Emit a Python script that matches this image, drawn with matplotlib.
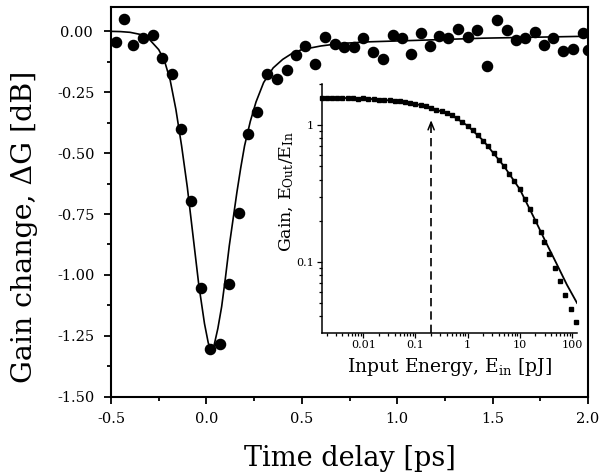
import matplotlib
matplotlib.use("Agg")
import matplotlib.pyplot as plt
from matplotlib.ticker import MultipleLocator, FormatStrFormatter, FixedLocator, FixedFormatter, LogLocator, NullFormatter

plt.rcParams['font.family'] = ['DejaVu Serif']
plt.rcParams['mathtext.fontset'] = 'dejavuserif'

# ---- main panel data: pump-probe gain change ----
delay_ps = [-0.475, -0.43, -0.383, -0.334, -0.281, -0.231, -0.182, -0.133, -0.081, -0.028,
            0.019, 0.071, 0.118, 0.172, 0.220, 0.267, 0.316, 0.372, 0.421, 0.468,
            0.517, 0.569, 0.622, 0.674, 0.723, 0.774, 0.822, 0.875, 0.924, 0.976,
            1.024, 1.072, 1.123, 1.172, 1.221, 1.268, 1.320, 1.373, 1.420, 1.469,
            1.521, 1.574, 1.621, 1.670, 1.722, 1.771, 1.818, 1.871, 1.920, 1.972, 2.0]
gain_dB = [-0.045, 0.052, -0.057, -0.027, -0.016, -0.109, -0.177, -0.40, -0.697, -1.052,
           -1.305, -1.284, -1.038, -0.747, -0.42, -0.33, -0.177, -0.194, -0.157, -0.098,
           -0.061, -0.132, -0.023, -0.052, -0.064, -0.064, -0.027, -0.084, -0.113, -0.016,
           -0.027, -0.095, -0.007, -0.061, -0.020, -0.027, 0.011, -0.025, 0.007, -0.143,
           0.045, 0.007, -0.034, -0.027, -0.003, -0.054, -0.027, -0.082, -0.071, -0.007, -0.075]

fit_t = [-0.50, -0.45, -0.40, -0.35, -0.30, -0.25, -0.22, -0.19, -0.16, -0.13, -0.10,
         -0.07, -0.04, -0.01, 0.01, 0.025, 0.04, 0.06, 0.08, 0.10, 0.12, 0.14, 0.16,
         0.18, 0.20, 0.23, 0.26, 0.30, 0.35, 0.40, 0.45, 0.50, 0.60, 0.70, 0.85, 1.10,
         1.45, 2.00]
fit_dB = [0.000, -0.001, -0.004, -0.012, -0.032, -0.075, -0.12, -0.20, -0.32, -0.47,
          -0.64, -0.84, -1.04, -1.20, -1.28, -1.305, -1.29, -1.22, -1.13, -1.01, -0.88,
          -0.77, -0.66, -0.56, -0.47, -0.37, -0.29, -0.21, -0.15, -0.115, -0.09, -0.075,
          -0.060, -0.050, -0.043, -0.037, -0.028, -0.020]

# ---- inset data: gain saturation ----
e_in_pJ = [0.0016, 0.002, 0.0025, 0.0032, 0.004, 0.005, 0.0063, 0.0079, 0.01, 0.0126,
           0.0158, 0.02, 0.025, 0.032, 0.04, 0.05, 0.063, 0.079, 0.1, 0.126,
           0.158, 0.2, 0.25, 0.32, 0.4, 0.5, 0.63, 0.79, 1.0, 1.26,
           1.58, 2.0, 2.5, 3.2, 4.0, 5.0, 6.3, 7.9, 10, 12.6,
           15.8, 20, 25, 29, 36, 47, 60, 75, 98, 122]
gain_ratio = [1.59, 1.58, 1.59, 1.58, 1.57, 1.58, 1.57, 1.56, 1.57, 1.56,
              1.55, 1.54, 1.53, 1.52, 1.51, 1.50, 1.48, 1.46, 1.43, 1.40,
              1.37, 1.34, 1.30, 1.26, 1.22, 1.18, 1.12, 1.05, 0.99, 0.92,
              0.84, 0.77, 0.70, 0.63, 0.56, 0.50, 0.44, 0.39, 0.34, 0.29,
              0.245, 0.20, 0.165, 0.14, 0.114, 0.09, 0.072, 0.057, 0.045, 0.036]
model_e = [0.0016, 0.01, 0.03, 0.1, 0.2, 0.5, 1, 2, 5, 10, 20, 30, 50, 80, 125]
model_g = [1.59, 1.57, 1.52, 1.43, 1.34, 1.18, 0.99, 0.77, 0.50, 0.34, 0.20, 0.145, 0.098, 0.068, 0.050]
arrow_e = 0.2

W, H = 602, 475
fig = plt.figure(figsize=(W / 100, H / 100), dpi=100)

ax = fig.add_axes([111 / W, 1 - 396.7 / H, (588 - 111) / W, (396.7 - 7) / H])
ax.plot(fit_t, fit_dB, color='black', lw=1.2, zorder=2)
ax.plot(delay_ps, gain_dB, 'o', color='black', ms=7.3, zorder=3)
ax.set_xlim(-0.5, 2.0)
ax.set_ylim(-1.5, 0.1)
ax.xaxis.set_major_locator(MultipleLocator(0.5))
ax.xaxis.set_minor_locator(MultipleLocator(0.25))
ax.yaxis.set_major_locator(MultipleLocator(0.25))
ax.yaxis.set_minor_locator(MultipleLocator(0.125))
ax.xaxis.set_major_formatter(FormatStrFormatter('%.1f'))
ax.yaxis.set_major_formatter(FormatStrFormatter('%.2f'))
for s in ax.spines.values():
    s.set_linewidth(1.5)
ax.tick_params(which='both', direction='out', top=False, right=False, width=1.3, labelsize=10.5)
ax.tick_params(which='major', length=5)
ax.tick_params(which='minor', length=3)
ax.tick_params(axis='y', which='major', pad=20)
ax.tick_params(axis='x', which='major', pad=6)
for lab in ax.get_yticklabels():
    lab.set_horizontalalignment('center')

fig.text(25 / W, 1 - 226.5 / H, 'Gain change, \u0394G [dB]', rotation=90,
         ha='center', va='center', fontsize=20.5)
fig.text(349.5 / W, 1 - 466 / H, 'Time delay [ps]', ha='center', va='baseline', fontsize=19.5)

# ---- inset ----
ai = fig.add_axes([321.7 / W, 1 - 332.7 / H, (577 - 321.7) / W, (332.7 - 84) / H])
ai.set_facecolor('none')
ai.set_xscale('log')
ai.set_yscale('log')
ai.set_xlim(0.0016, 125)
ai.set_ylim(0.0303, 2.0)
ai.plot(model_e, model_g, color='black', lw=1.3, zorder=2)
ai.plot(e_in_pJ, gain_ratio, 's', color='black', ms=2.6, zorder=3, clip_on=False)
ai.plot([arrow_e, arrow_e], [0.0303, 1.05], color='black', lw=1.2, ls=(0, (5, 3)))
ai.annotate('', xy=(arrow_e, 1.14), xytext=(arrow_e, 0.95),
            arrowprops=dict(arrowstyle='->,head_length=0.55,head_width=0.22', lw=1.1, color='black'))
ai.spines['top'].set_visible(False)
ai.spines['right'].set_visible(False)
for s in ('left', 'bottom'):
    ai.spines[s].set_linewidth(1.1)
ai.xaxis.set_major_locator(FixedLocator([0.01, 0.1, 1, 10, 100]))
ai.xaxis.set_major_formatter(FixedFormatter(['0.01', '0.1', '1', '10', '100']))
ai.xaxis.set_minor_locator(LogLocator(base=10, subs=range(2, 10)))
ai.xaxis.set_minor_formatter(NullFormatter())
ai.yaxis.set_major_locator(FixedLocator([0.1, 1]))
ai.yaxis.set_major_formatter(FixedFormatter(['0.1', '1']))
ai.yaxis.set_minor_locator(LogLocator(base=10, subs=range(2, 10)))
ai.yaxis.set_minor_formatter(NullFormatter())
ai.tick_params(which='both', direction='out', labelsize=8, width=0.9)
ai.tick_params(which='major', length=3.5, pad=2)
ai.tick_params(which='minor', length=2)

fig.text(449.3 / W, 1 - 372 / H, r'Input Energy, E$_{\mathrm{in}}$ [pJ]', ha='center', va='baseline', fontsize=13.5)
fig.text(287 / W, 1 - 192 / H, r'Gain, E$_{\mathrm{Out}}$/E$_{\mathrm{In}}$', rotation=90,
         ha='center', va='center', fontsize=12.5)

fig.savefig('out.png', dpi=100)
